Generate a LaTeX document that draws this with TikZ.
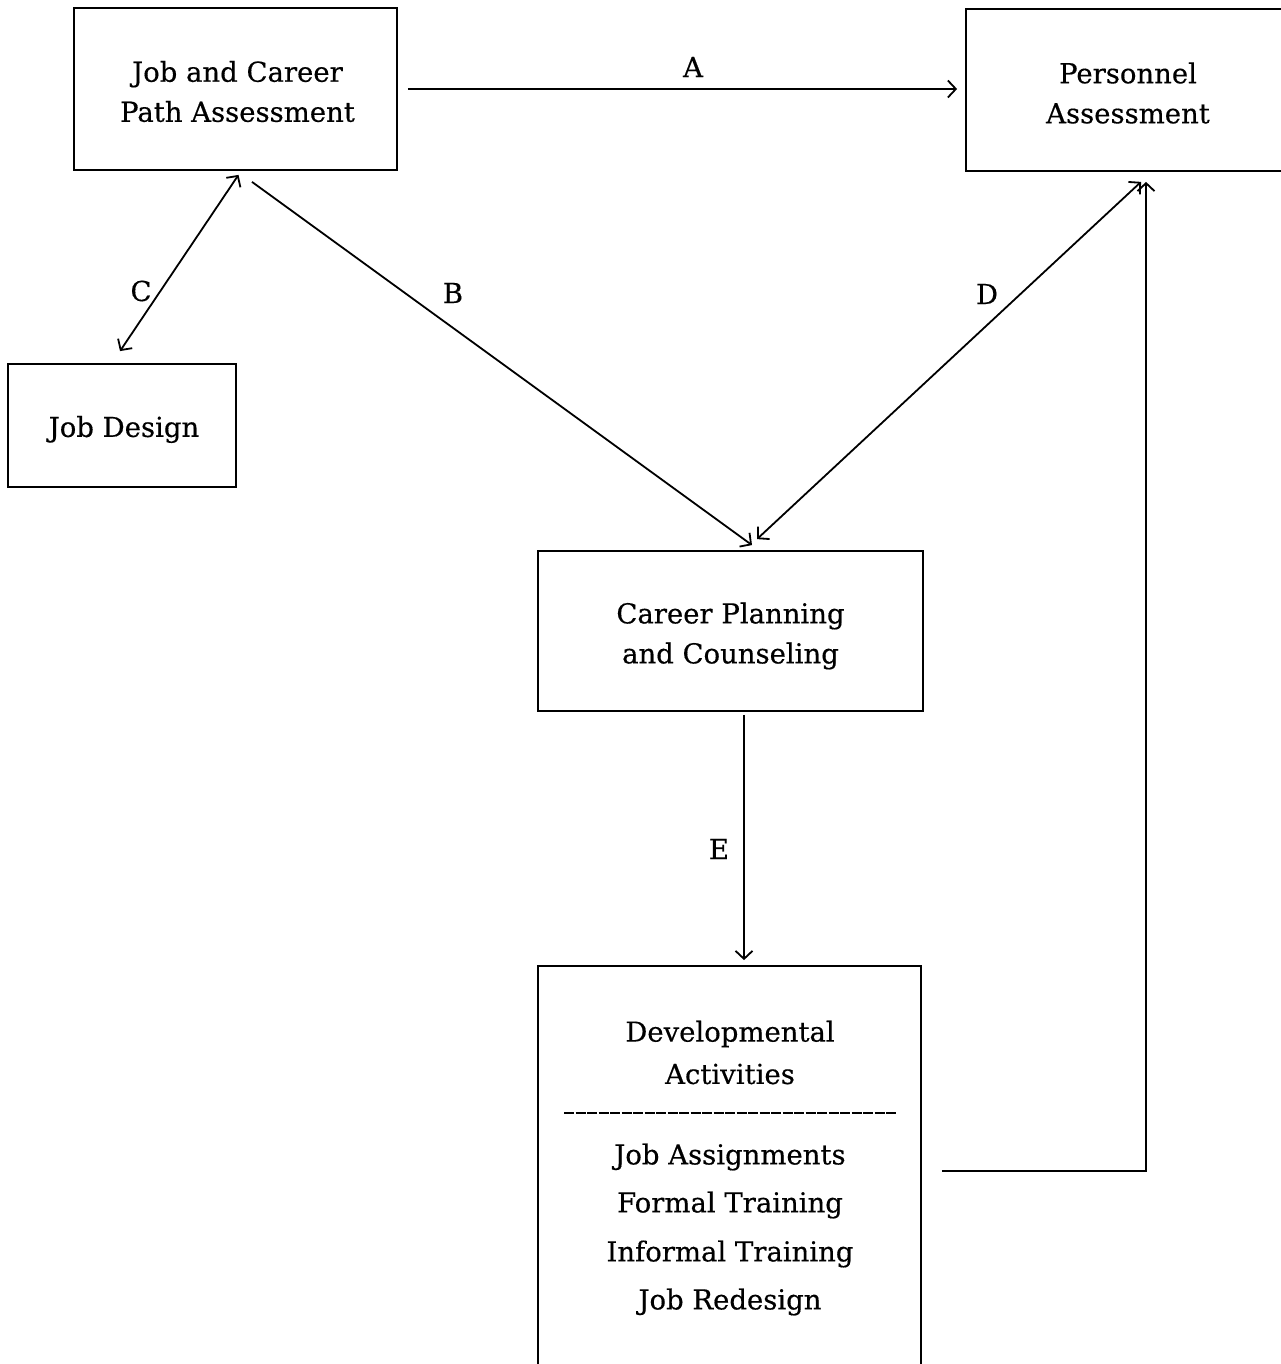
\documentclass[tikz,border=0pt]{standalone}
\usepackage{fontspec}
\setmainfont{DejaVu Serif}[FakeBold=0.4]
\usetikzlibrary{arrows.meta,calc}
\begin{document}
\begin{tikzpicture}[x=1pt,y=-1pt,
  box/.style={draw,line width=1.8pt,rectangle,inner sep=0pt},
  boxtxt/.style={align=center,inner sep=0pt,font=\fontsize{27.5}{40}\selectfont},
  txt/.style={font=\fontsize{27.5}{30}\selectfont,inner sep=0pt},
  conn/.style={line width=1.8pt,-{Straight Barb[length=8pt,width=17pt,line width=1.8pt]}},
  conn2/.style={line width=1.8pt,{Straight Barb[length=8pt,width=17pt,line width=1.8pt]}-{Straight Barb[length=8pt,width=17pt,line width=1.8pt]}},
  lbl/.style={font=\fontsize{27.5}{30}\selectfont,inner sep=0pt}]
\useasboundingbox[fill=white] (0,0) rectangle (1281,1364);
\node[box,minimum width=323pt,minimum height=162pt] (jc) at (235.5,89) {};
\node[boxtxt] (jct) at ([shift={(2,2.5)}]jc.center) {Job and Career\\Path Assessment};
\node[box,minimum width=324pt,minimum height=162pt] (pa) at (1128,90) {};
\node[boxtxt] (pat) at ([shift={(0,3)}]pa.center) {Personnel\\Assessment};
\node[box,minimum width=228pt,minimum height=123pt] (jd) at (122,425.5) {};
\node[boxtxt] (jdt) at ([shift={(2,4)}]jd.center) {Job Design};
\node[box,minimum width=385pt,minimum height=160pt] (cp) at (730.5,631) {};
\node[boxtxt] (cpt) at ([shift={(0,5)}]cp.center) {Career Planning\\and Counseling};
\node[box,minimum width=383pt,minimum height=434pt] (da) at (729.5,1183) {};
\node[txt] (t1) at (730,1034) {Developmental};
\node[txt] (t2) at (730,1074) {Activities};
\coordinate (dl) at (564,1113);
\coordinate (dr) at (897,1113);
\draw[line width=1.8pt,dash pattern=on 10pt off 1.5pt] (dl) -- (dr);
\node[txt] (t3) at (730,1157) {Job Assignments};
\node[txt] (t4) at (730,1205) {Formal Training};
\node[txt] (t5) at (730,1254) {Informal Training};
\node[txt] (t6) at (730,1302) {Job Redesign};
% connectors
\draw[conn] ([shift={(10,0)}]jc.east) -- ([shift={(-8,-1)}]pa.west);
\node[lbl] (la) at (693,67) {A};
\draw[conn] ([shift={(16.5,11)}]jc.south) -- ([shift={(21.5,-5)}]cp.north);
\node[lbl] (lb) at (453,293) {B};
\draw[conn2] ([shift={(3,4)}]jc.south) -- ([shift={(-2,-12)}]jd.north);
\node[lbl] (lc) at (141,291) {C};
\draw[conn2] ([shift={(13,10)}]pa.south) -- ([shift={(26.5,-11)}]cp.north);
\node[lbl] (ld) at (987,294) {D};
\draw[conn] ([shift={(13.5,3)}]cp.south) -- ([shift={(14.5,-5)}]da.north);
\node[lbl] (le) at (719,849) {E};
\draw[conn] ([shift={(20,-12)}]da.east) -| ([shift={(18,10)}]pa.south);
\end{tikzpicture}
\end{document}
